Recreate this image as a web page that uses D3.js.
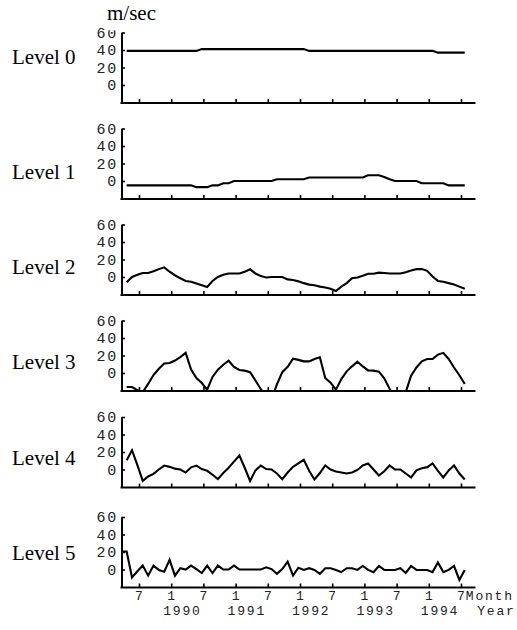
<!DOCTYPE html>
<html><head><meta charset="utf-8">
<script src="https://cdn.jsdelivr.net/npm/d3@7"></script>
<style>body{margin:0;background:#fff}svg{display:block}</style>
</head><body>
<svg id="chart" width="517" height="630"></svg>
<script>
// ---- data ----
const levelNames = ["Level 0", "Level 1", "Level 2", "Level 3", "Level 4", "Level 5"];
const unitLabel = "m/sec";
// month index counted from Jan 1989 (0 = Jan 1989) of each series' first value
const firstMonth = [3.7, 3.7, 3.7, 3.7, 3.7, 2.7];

const level0 = [39,39,39,39,39,39,39,39,39,39,39,39,39,39,
  41,41,41,41,41,41,41,41,41,41,41,41,41,41,41,41,41,41,41,41,
  39,39,39,39,39,39,39,39,39,39,39,39,39,39,39,39,39,39,39,39,39,39,39,39,
  37,37,37,37,37,37];
const level1 = [-5,-5,-5,-5,-5,-5,-5,-5,-5,-5,-5,-5,-5,
  -7,-7,-7, -5,-5, -2.5,-2.5, 0,0,0,0,0,0,0,0, 2,2,2,2,2,2,
  4,4,4,4,4,4,4,4,4,4,4, 6.5,6.5,6.5, 4.5,2, 0,0,0,0,0,
  -2.5,-2.5,-2.5,-2.5,-2.5, -5,-5,-5,-5];
const level2 = [-6,0,2.5,4.5,4.5,6.5,9,11,6,2,-1.5,-4.5,-5.5,-7.5,-9.5,-11.5,
  -4.5,0,2.5,4,4,4,6,8.8,4,1,-0.5,0,0,0,-2.7,-3.4,-5,-7,-8.7,-9.5,
  -11,-12,-13.5,-16,-11,-7,-1.5,-0.5,1.5,3.8,3.8,5,4.5,4,4,4,5.5,7.5,
  9,9,7,0.5,-4.5,-5.5,-7,-8.5,-11,-13.5];
const level3 = [-16,-16,-19.5,-22,-12.5,-2.3,4.8,10.8,11.4,14.2,18.2,23,4,-5.7,-11.4,-19,
  -4.5,3.8,9.5,14,7,3.5,2.7,1,-8.5,-18.5,-26,-30,-13,1,7,16.4,
  15,13.3,13.3,16,18,-5.7,-11,-19,-7,1.9,7.6,13,7.5,3,2.7,1.5,
  -6,-18,-28,-28,-22,-3,6.3,13.4,16,16,21,23,16,6.3,-2.6,-12.5];
const level4 = [10.5,22,5,-13,-8,-5,0,4.5,3,1,0,-3.5,2.5,4.5,0.5,-1.5,
  -6,-11,-4,2,9,16,2,-13,-1,4.5,0.5,0,-4.5,-11,-3.5,3,
  7,11,-1.5,-11.4,-4,4.6,0,-2.3,-3.5,-4.6,-3.5,-0.5,4.6,6.9,0,-6.9,
  -2,4.6,0,0,-4.6,-9.1,-1,1.5,2.7,6.9,-1.5,-9.1,-1,4.6,-4.6,-11.4];
const level5 = [20.5,20.5,-9,-2,4.5,-7,4.5,-0.5,-2.5,11,-7,1.5,0,4.5,0.5,-4,
  4.5,-4,4.5,0,0,4.5,0,0,0,0,0,2.5,0.5,-5,0.5,9,
  -7,2,-0.5,1.5,-0.5,-5,1.5,1.5,-0.5,-3,1.5,1.5,-0.5,4,-0.5,-3,
  4,-0.5,-0.5,-0.5,1.5,-4,4,-0.5,-0.5,-0.5,-3,8,-3,-0.5,4,-12,-0.5];
const seriesList = [level0, level1, level2, level3, level4, level5];

const yDomain = [-20, 60];
const yTicks = [0, 20, 40, 60];
const tickMonths = [6, 12, 18, 24, 30, 36, 42, 48, 54, 60, 66];
const monthLabels = ["7", "1", "7", "1", "7", "1", "7", "1", "7", "1", "7"];
const yearLabels = ["", "1990", "", "1991", "", "1992", "", "1993", "", "1994", ""];
const monthAxisName = "Month";
const yearAxisName = "Year";

// ---- layout ----
const plotLeft = 121.5, plotRight = 475;
const panelBottoms = [102.5, 198.5, 294.5, 390.5, 487, 587];
const panelHeight = 70;
const labelBaselines = [64, 179, 274, 369, 465, 560];
const serif = "'Liberation Serif','Times New Roman',Times,serif";
const mono = "'Liberation Mono','Courier New',Courier,monospace";
const xFont = 13, xSpacing = 1.8;

const svg = d3.select("#chart");
const x = d3.scaleLinear().domain([6, 66]).range([139, 461]);
const xAxisScale = d3.scaleLinear()
  .domain([x.invert(plotLeft - 1.5), x.invert(plotRight)])
  .range([plotLeft - 1.5, plotRight]);

seriesList.forEach((vals, p) => {
  const b = panelBottoms[p];
  const y = d3.scaleLinear().domain(yDomain).range([b, b - panelHeight]);
  const g = svg.append("g");

  const clipId = "clip" + p;
  svg.append("clipPath").attr("id", clipId).append("rect")
    .attr("x", plotLeft).attr("y", b - panelHeight - 10)
    .attr("width", plotRight - plotLeft).attr("height", panelHeight + 10);

  const line = d3.line()
    .x((d, i) => x(firstMonth[p] + i))
    .y(d => y(d));
  g.append("path").datum(vals)
    .attr("clip-path", `url(#${clipId})`)
    .attr("fill", "none").attr("stroke", "#000")
    .attr("stroke-width", 2.1).attr("stroke-linejoin", "miter")
    .attr("d", line);

  // y axis
  const ya = g.append("g").attr("transform", `translate(${plotLeft},0)`)
    .call(d3.axisLeft(y).tickValues(yTicks).tickSizeInner(-3.5).tickSizeOuter(0).tickPadding(5));
  ya.select(".domain").attr("stroke-width", 2);
  ya.selectAll(".tick line").attr("stroke-width", 1.6);
  ya.selectAll(".tick text")
    .attr("x", -3.5).attr("font-family", mono).attr("font-size", 15)
    .attr("letter-spacing", "1.8px").attr("fill", "#222");

  // x axis
  const xa = g.append("g").attr("transform", `translate(0,${b})`)
    .call(d3.axisBottom(xAxisScale).tickValues(tickMonths).tickSizeInner(-3.5).tickSizeOuter(0)
      .tickFormat(""));
  xa.select(".domain").attr("stroke-width", 2);
  xa.selectAll(".tick line").attr("stroke-width", 1.6);

  if (p === seriesList.length - 1) {
    const lab = g.append("g").attr("font-family", mono).attr("font-size", xFont)
      .attr("letter-spacing", xSpacing + "px").attr("fill", "#222");
    lab.selectAll("text.m").data(tickMonths).join("text").attr("class", "m")
      .attr("x", d => x(d) + xSpacing / 2).attr("y", b + 12.5).attr("text-anchor", "middle")
      .text((d, i) => monthLabels[i]);
    lab.selectAll("text.yr").data(tickMonths.filter((d, i) => yearLabels[i] !== "")).join("text")
      .attr("class", "yr")
      .attr("x", d => x(d) - 8).attr("y", b + 27.5)
      .text(d => yearLabels[tickMonths.indexOf(d)]);
    const lastX = x(tickMonths[tickMonths.length - 1]);
    lab.append("text").attr("x", lastX + 4.8).attr("y", b + 12.5).text(monthAxisName);
    lab.append("text").attr("x", lastX + 54.6).attr("y", b + 27.5)
      .attr("text-anchor", "end").text(yearAxisName);
  }

  svg.append("text").attr("x", 12).attr("y", labelBaselines[p])
    .attr("font-family", serif).attr("font-size", 21).attr("fill", "#000")
    .text(levelNames[p]);
});

// unit label (its box covers the top of the first "60")
svg.append("rect").attr("x", 105.5).attr("y", 0).attr("width", 60).attr("height", 30.3).attr("fill", "#fff");
svg.append("text").attr("x", 107).attr("y", 20)
  .attr("font-family", serif).attr("font-size", 21).attr("fill", "#000").text(unitLabel);
</script>
</body></html>
